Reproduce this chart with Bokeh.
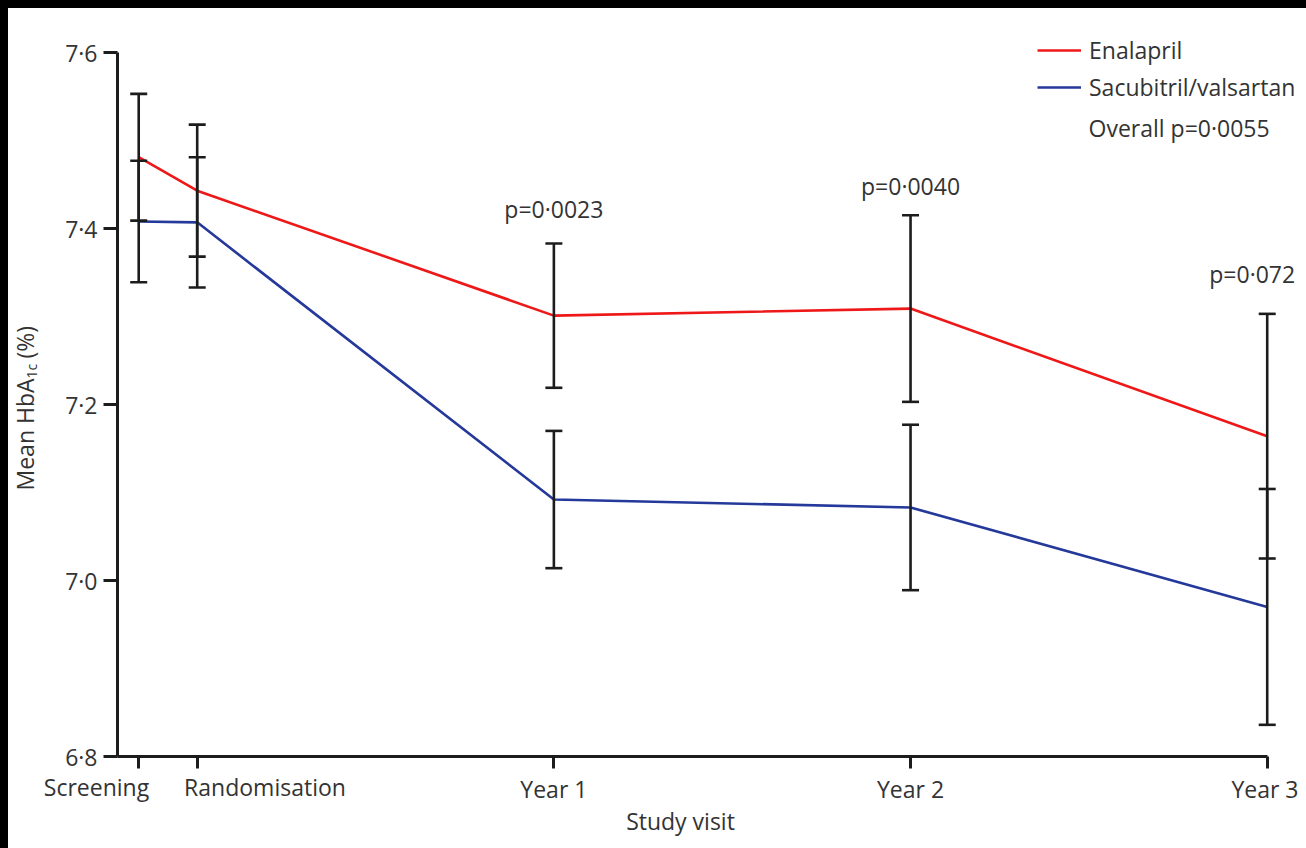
import numpy as np
from bokeh.plotting import figure
from bokeh.models import (ColumnDataSource, Whisker, TeeHead, Legend, LegendItem,
                          Label, FixedTicker, Range1d)
from bokeh.embed import file_html
from bokeh.resources import INLINE
from bokeh.core.properties import value

# ---------------- data ----------------
visits = ["Screening", "Randomisation", "Year 1", "Year 2", "Year 3"]
visit_x = [-0.164, 0.0, 1.0, 2.0, 3.0]          # study time (years from randomisation)
enalapril_mean = [7.481, 7.443, 7.301, 7.309, 7.164]
enalapril_err = [0.072, 0.075, 0.082, 0.106, 0.139]
sacubitril_mean = [7.408, 7.407, 7.092, 7.083, 6.970]
sacubitril_err = [0.069, 0.074, 0.078, 0.094, 0.134]
y_ticks = [6.8, 7.0, 7.2, 7.4, 7.6]
y_tick_labels = ["6·8", "7·0", "7·2", "7·4", "7·6"]
p_labels = ["p=0·0023", "p=0·0040", "p=0·072"]
overall_p = "Overall p=0·0055"

# ---------------- style ----------------
FONT = "Open Sans"
TXT = "#333333"
INK = "#1c1c1c"
RED = "#ee1818"
BLUE = "#24399a"
FS = "23px"

# window-pixel -> data helpers (used only to place annotations / ranges)
X0_PX, X_UNIT = 196.7, 356.67
Y0_PX, Y_UNIT = 52.0, 880.0
def dx(px):
    return (px - X0_PX) / X_UNIT
def dy(py):
    return 7.6 - (py - Y0_PX) / Y_UNIT

# frame covers the whole canvas; axes are drawn at fixed locations inside it
p = figure(width=1290, height=832, output_backend="svg", toolbar_location=None,
           x_range=Range1d(dx(8), dx(1298)), y_range=Range1d(dy(840), dy(8)),
           min_border=0)
p.outline_line_color = None
p.xgrid.visible = False
p.ygrid.visible = False
p.background_fill_color = "white"
p.border_fill_color = "white"

# x axis
xa = p.xaxis[0]
xa.fixed_location = y_ticks[0]
xa.ticker = FixedTicker(ticks=visit_x)
xa.major_label_overrides = {visit_x[0]: "", visit_x[1]: "",
                            visit_x[2]: visits[2], visit_x[3]: visits[3], visit_x[4]: visits[4]}
xa.bounds = (dx(117), visit_x[-1])
xa.axis_line_width = 3
xa.axis_line_color = INK
xa.major_tick_line_width = 3
xa.major_tick_line_color = INK
xa.major_tick_out = 12
xa.major_tick_in = 0
xa.minor_tick_line_color = None
xa.major_label_standoff = 4
xa.major_label_text_font = FONT
xa.major_label_text_font_size = FS
xa.major_label_text_color = TXT

# y axis
ya = p.yaxis[0]
ya.fixed_location = dx(117)
ya.ticker = FixedTicker(ticks=y_ticks)
ya.major_label_overrides = {t: l for t, l in zip(y_ticks, y_tick_labels)}
ya.bounds = (y_ticks[0], y_ticks[-1])
ya.axis_line_width = 3
ya.axis_line_color = INK
ya.major_tick_line_width = 3
ya.major_tick_line_color = INK
ya.major_tick_out = 14
ya.major_tick_in = 0
ya.minor_tick_line_color = None
ya.major_label_standoff = 6
ya.major_label_text_font = FONT
ya.major_label_text_font_size = FS
ya.major_label_text_color = TXT

# lines
r_en = p.line(visit_x, enalapril_mean, line_color=RED, line_width=2.6)
r_sv = p.line(visit_x, sacubitril_mean, line_color=BLUE, line_width=2.6)

# error bars
base = visit_x + visit_x
upper = [m + e for m, e in zip(enalapril_mean, enalapril_err)] + \
        [m + e for m, e in zip(sacubitril_mean, sacubitril_err)]
lower = [m - e for m, e in zip(enalapril_mean, enalapril_err)] + \
        [m - e for m, e in zip(sacubitril_mean, sacubitril_err)]
bars = ColumnDataSource(dict(base=base, upper=upper, lower=lower))
wh = Whisker(base="base", upper="upper", lower="lower", source=bars, dimension="height",
             line_color=INK, line_width=2.6, level="overlay",
             upper_head=TeeHead(size=17, line_color=INK, line_width=2.6),
             lower_head=TeeHead(size=17, line_color=INK, line_width=2.6))
p.add_layout(wh)

# p-values above enalapril bars at years 1-3
gap_px = [34, 29, 40]
shift_px = [0, 0, -15]
en_up = upper[2:5]
psrc = ColumnDataSource(dict(
    x=[visit_x[2 + i] + shift_px[i] / X_UNIT for i in range(3)],
    y=[en_up[i] + gap_px[i] / Y_UNIT for i in range(3)],
    text=p_labels))
p.text(x="x", y="y", text="text", source=psrc, text_align="center",
       text_baseline="alphabetic", text_font=value(FONT), text_font_size=FS,
       text_color=TXT)

# legend (location = bottom-left corner, pixels from frame bottom-left)
legend = Legend(items=[LegendItem(label="Enalapril", renderers=[r_en]),
                       LegendItem(label="Sacubitril/valsartan", renderers=[r_sv])],
                location=(1037 - 8, 840 - 103),
                glyph_width=44, glyph_height=30, label_height=30, label_standoff=8,
                spacing=5, padding=0, margin=0,
                border_line_color=None, background_fill_alpha=0,
                label_text_font=FONT, label_text_font_size=FS, label_text_color=TXT)
p.add_layout(legend)

def lab(px, py, text, size=FS, angle=0.0, align="center"):
    p.add_layout(Label(x=dx(px), y=dy(py), text=text, angle=angle, text_align=align,
                       text_baseline="alphabetic", text_font=FONT,
                       text_font_size=size, text_color=TXT))

lab(1088, 127, overall_p, align="left")
# x labels for the two early visits (shifted apart, as in the original)
lab(96, 786, visits[0])
lab(264.5, 786, visits[1])
# axis titles
lab(680, 820, "Study visit")
lab(24, 490, "Mean HbA", angle=np.pi / 2, align="left")
lab(31, 378, "1c", size="14px", angle=np.pi / 2, align="left")
lab(24, 358, "(%)", angle=np.pi / 2, align="left")

html = file_html(p, INLINE, title="HbA1c")
css = ("<style>html{background:linear-gradient(#000,#000) 0 0/100% 8px no-repeat,"
       "linear-gradient(#000,#000) 0 0/8px 100% no-repeat,#fff;}"
       "body{margin:8px;background:transparent;}</style>")
html = html.replace("</head>", css + "</head>", 1)
open("out.html", "w").write(html)
